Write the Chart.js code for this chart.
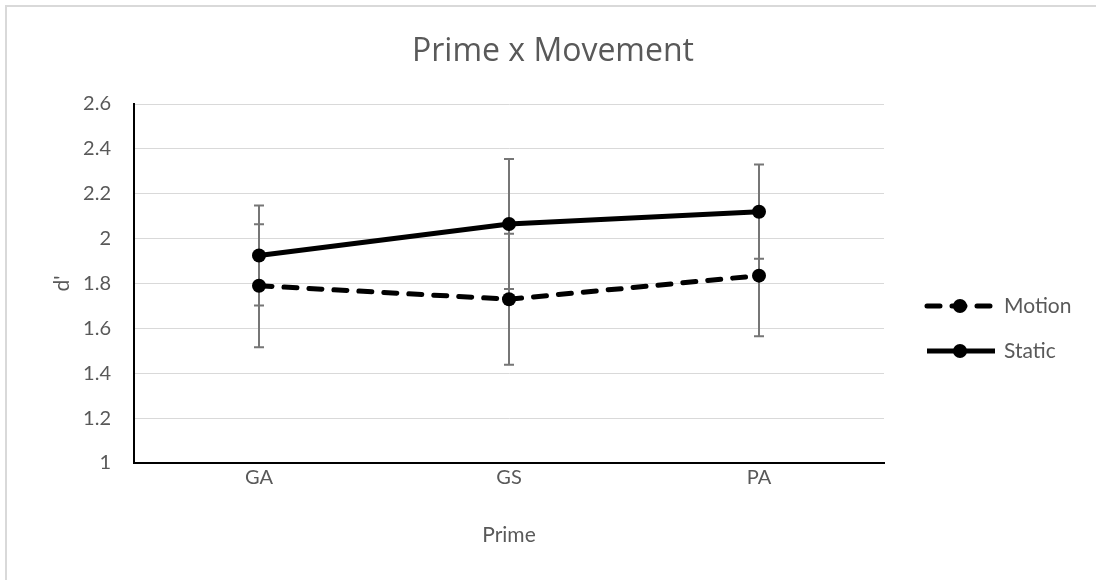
<!DOCTYPE html>
<html>
<head>
<meta charset="utf-8">
<script src="https://cdn.jsdelivr.net/npm/chart.js@4/dist/chart.umd.min.js"></script>
<style>
  html, body { margin: 0; padding: 0; background: #fff; overflow: hidden; }
  #frame { position: absolute; left: 5px; top: 5px; width: 2000px; height: 2000px; border: 2px solid #d9d9d9; }
  #wrap { position: absolute; left: 0; top: 0; width: 1096px; height: 580px; }
</style>
</head>
<body>
<div id="frame"></div>
<div id="wrap"><canvas id="primeChart"></canvas></div>
<script>
// Data
const categories = ['GA', 'GS', 'PA'];
const seriesNames = ['Motion', 'Static'];
const motionValues = [1.79, 1.73, 1.835];
const staticValues = [1.925, 2.065, 2.12];
const motionErrors = [0.274, 0.292, 0.27];
const staticErrors = [0.223, 0.29, 0.21];
const yMin = 1, yMax = 2.6, yStep = 0.2;

const textColor = '#595959';

// error bars, drawn under the lines and markers
const errorBarPlugin = {
    id: 'errorBars',
    beforeDatasetsDraw(chart) {
        const ctx = chart.ctx;
        const y = chart.scales.y;
        ctx.save();
        ctx.strokeStyle = '#767676';
        ctx.lineWidth = 2;
        chart.data.datasets.forEach((ds, i) => {
            const meta = chart.getDatasetMeta(i);
            meta.data.forEach((pt, j) => {
                const top = y.getPixelForValue(ds.data[j] + ds.errorBars[j]);
                const bot = y.getPixelForValue(ds.data[j] - ds.errorBars[j]);
                ctx.beginPath();
                ctx.moveTo(pt.x, top); ctx.lineTo(pt.x, bot);
                ctx.moveTo(pt.x - 5, top); ctx.lineTo(pt.x + 5, top);
                ctx.moveTo(pt.x - 5, bot); ctx.lineTo(pt.x + 5, bot);
                ctx.stroke();
            });
        });
        ctx.restore();
    }
};

// Excel style legend on the right: line with a marker in the middle
const sideLegendPlugin = {
    id: 'sideLegend',
    afterDraw(chart) {
        const ctx = chart.ctx;
        const area = chart.chartArea;
        const x0 = area.right + 41;
        const rows = [area.top + 202, area.top + 247];
        ctx.save();
        chart.data.datasets.forEach((ds, i) => {
            const yy = rows[i];
            ctx.strokeStyle = ds.borderColor;
            ctx.lineWidth = ds.borderWidth;
            ctx.lineCap = ds.borderDash.length ? 'round' : 'butt';
            ctx.setLineDash(ds.borderDash);
            ctx.beginPath();
            ctx.moveTo(x0 + 2, yy);
            ctx.lineTo(x0 + 70, yy);
            ctx.stroke();
            ctx.setLineDash([]);
            ctx.fillStyle = ds.pointBackgroundColor;
            ctx.beginPath();
            ctx.arc(x0 + 35, yy, ds.pointRadius, 0, Math.PI * 2);
            ctx.fill();
            ctx.fillStyle = textColor;
            ctx.font = '21px Lato';
            ctx.textBaseline = 'middle';
            ctx.fillText(ds.label, x0 + 79, yy);
        });
        ctx.restore();
    }
};

document.addEventListener('DOMContentLoaded', function() {
    const ctx = document.getElementById('primeChart');

    new Chart(ctx, {
        type: 'line',
        data: {
            labels: categories,
            datasets: [{
                label: seriesNames[0],
                data: motionValues,
                errorBars: motionErrors,
                borderColor: '#000',
                borderWidth: 5,
                borderDash: [13, 12],
                borderCapStyle: 'round',
                pointRadius: 7,
                pointBackgroundColor: '#000',
                pointBorderWidth: 0,
                tension: 0
            }, {
                label: seriesNames[1],
                data: staticValues,
                errorBars: staticErrors,
                borderColor: '#000',
                borderWidth: 5,
                borderDash: [],
                pointRadius: 7,
                pointBackgroundColor: '#000',
                pointBorderWidth: 0,
                tension: 0
            }]
        },
        plugins: [errorBarPlugin, sideLegendPlugin],
        options: {
            responsive: true,
            maintainAspectRatio: false,
            animation: false,
            layout: {
                padding: { top: 0, right: 0, bottom: 0, left: 10 }
            },
            plugins: {
                legend: { display: false },
                tooltip: { enabled: false },
                title: {
                    display: true,
                    text: 'Prime x Movement',
                    color: textColor,
                    font: { family: 'Open Sans', size: 32, weight: 'normal' },
                    padding: { top: 33, bottom: 32.6 }
                }
            },
            scales: {
                x: {
                    offset: true,
                    grid: { display: false, drawTicks: false },
                    border: { color: '#000', width: 2 },
                    ticks: {
                        color: textColor,
                        font: { family: 'Lato', size: 20 },
                        padding: 3
                    },
                    title: {
                        display: true,
                        text: 'Prime',
                        color: textColor,
                        font: { family: 'Lato', size: 21 },
                        padding: { top: 0, bottom: 32 }
                    },
                    afterFit: s => { s.height = 117; }
                },
                y: {
                    min: yMin,
                    max: yMax,
                    grid: { color: '#d9d9d9', lineWidth: 1, drawTicks: false },
                    border: { color: '#000', width: 2 },
                    ticks: {
                        stepSize: yStep,
                        color: textColor,
                        font: { family: 'Lato', size: 20 },
                        padding: 23,
                        callback: v => String(Math.round(v * 10) / 10)
                    },
                    title: {
                        display: true,
                        text: "d'",
                        color: textColor,
                        font: { family: 'Lato', size: 21 },
                        padding: { top: 40, bottom: 0 }
                    },
                    afterFit: s => { s.width = 124; }
                },
                // empty axis that keeps room for the legend on the right
                y2: {
                    position: 'right',
                    grid: { display: false },
                    border: { display: false },
                    ticks: { display: false },
                    afterFit: s => { s.width = 212; }
                }
            }
        }
    });
});
</script>
</body>
</html>
